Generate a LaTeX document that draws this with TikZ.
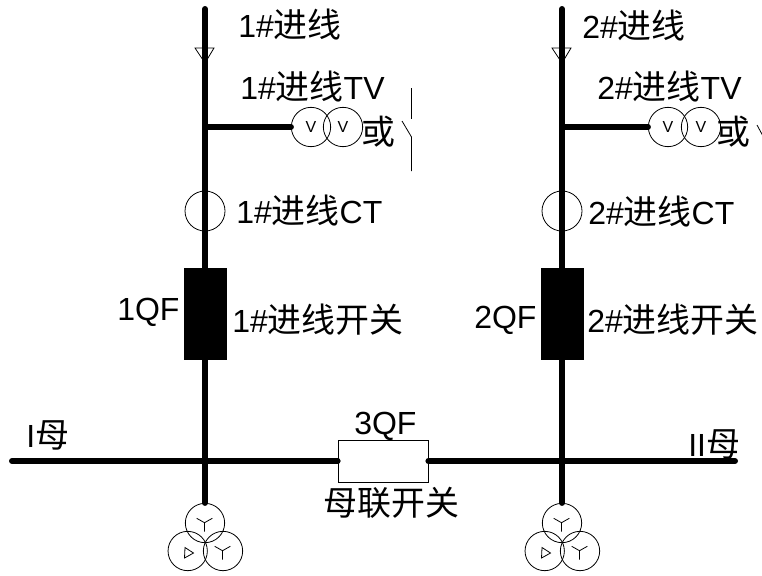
\documentclass[tikz,border=0pt]{standalone}
\usepackage{fontspec}
\setmainfont{Liberation Sans}
\newfontfamily\zhfont{Noto Sans CJK SC}[Scale=1.06]
\newcommand{\zh}[1]{{\zhfont #1}}
\tikzset{
  busline/.style={line width=4.5pt,line cap=round},
  thin part/.style={line width=0.6pt},
  lab/.style={font=\fontsize{24}{26}\selectfont,inner sep=0pt,anchor=west,text=black},
  ring/.style={circle,draw,line width=0.6pt,minimum size=29.5pt,inner sep=0pt,fill=none},
  ctring/.style={ring,minimum size=30pt},
  breaker/.style={draw,fill=black,minimum width=31.5pt,minimum height=68pt,inner sep=0pt},
  tie/.style={draw,line width=0.6pt,minimum width=67.5pt,minimum height=31.5pt,inner sep=0pt},
  vmark/.style={font=\fontsize{12}{13}\selectfont,inner sep=0pt},
}
\begin{document}
\begin{tikzpicture}[x=0.75pt,y=-0.75pt]
\useasboundingbox (0,0) rectangle (762,575);
\clip (0,0) rectangle (762,575);
% coordinates
\coordinate (lt) at (205,9);
\coordinate (rt) at (562,9);
\coordinate (bl) at (12,461);
\coordinate (br) at (735,461);
\coordinate (ltap) at (205,127);
\coordinate (rtap) at (562,127);
\coordinate (lbus) at (205,461);
\coordinate (rbus) at (562,461);
% main elements
\node[tie] (qf3) at (383,461) {};
\node[breaker] (qf1) at (205,313.5) {};
\node[breaker] (qf2) at (562,313.5) {};
\node[ring] (lv1) at (311,127) {};
\node[ring] (lv2) at (343,127) {};
\node[ring] (rv1) at (668,127) {};
\node[ring] (rv2) at (701,127) {};
\node[ctring] (lct) at (205,211) {};
\node[ctring] (rct) at (562,211) {};
\node[ring] (lpt1) at (205,523) {};
\node[ring] (lpt2) at (187.7,551) {};
\node[ring] (lpt3) at (223,551) {};
\node[ring] (rpt1) at (562,523) {};
\node[ring] (rpt2) at (544.7,551) {};
\node[ring] (rpt3) at (580,551) {};
% heavy lines
\draw[busline] (lt) -- (qf1.north);
\draw[busline] (qf1.south) -- (lbus) -- (lpt1.north);
\draw[busline] (rt) -- (qf2.north);
\draw[busline] (qf2.south) -- (rbus) -- (rpt1.north);
\draw[busline] (ltap) -- (lv1.west);
\draw[busline] (rtap) -- (rv1.west);
\draw[busline] (bl) -- (qf3.west);
\draw[busline] (qf3.east) -- (br);
% incoming arrows
\draw[thin part] (195,48) -- (214,48) -- (205,63) -- cycle;
\draw[thin part] (552,48) -- (571,48) -- (562,63) -- cycle;
% V marks
\node[vmark] at (lv1) {V};
\node[vmark] at (lv2) {V};
\node[vmark] at (rv1) {V};
\node[vmark] at (rv2) {V};
% switch left
\draw[thin part] (411.5,88) -- (411.5,119);
\draw[thin part] (402,121) -- (411.5,137) -- (411.5,171);
% switch right, cut by the edge
\draw[thin part] (757,125) -- (764,138);
% PT symbols
\foreach \p/\dx in {l/0,r/357}{
  \begin{scope}[xshift=\dx*0.75pt]
    \draw[thin part] (196.7,518.3) -- (204.5,522.7) -- (212.3,518.3) (204.5,522.7) -- (204.5,531.7);
    \draw[thin part] (214.7,546.3) -- (222.5,550.7) -- (230.3,546.3) (222.5,550.7) -- (222.5,559.7);
    \draw[thin part] (185,547.5) -- (193.5,553) -- (184.5,558) -- cycle;
  \end{scope}
}
% labels
\node[lab] (a1) at (238,25) {1\#\zh{进线}};
\node[lab] (a2) at (240,87) {1\#\zh{进线}TV};
\node[lab] (a3) at (361,132) {\zh{或}};
\node[lab] (a4) at (236,211) {1\#\zh{进线}CT};
\node[lab] (a5) at (117,312) {1QF};
\node[lab] (a6) at (232,320) {1\#\zh{进线开关}};
\node[lab] (b1) at (582,26) {2\#\zh{进线}};
\node[lab] (b2) at (597,87) {2\#\zh{进线}TV};
\node[lab] (b3) at (716,132) {\zh{或}};
\node[lab] (b4) at (588,212) {2\#\zh{进线}CT};
\node[lab] (b5) at (474,320) {2QF};
\node[lab] (b6) at (587,320) {2\#\zh{进线开关}};
\node[lab] (c1) at (26,435) {I\zh{母}};
\node[lab] (c2) at (688,444) {II\zh{母}};
\node[lab] (c3) at (354,426) {3QF};
\node[lab] (c4) at (323,503) {\zh{母联开关}};
\end{tikzpicture}
\end{document}
